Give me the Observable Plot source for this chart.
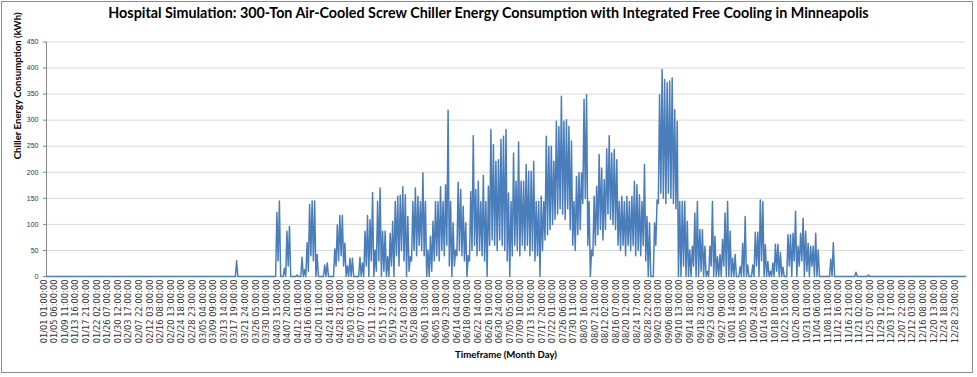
<!DOCTYPE html>
<html>
<head>
<meta charset="utf-8">
<script src="https://cdn.jsdelivr.net/npm/d3@7"></script>
<script src="https://cdn.jsdelivr.net/npm/@observablehq/plot@0.6"></script>
<style>
  html, body { margin: 0; padding: 0; background: #fff; }
  #chart { position: relative; width: 977px; height: 377px; overflow: hidden; background: #fff; }
  #frame { position: absolute; left: 1px; top: 1px; width: 970px; height: 370px; border: 1px solid #8c8c8c; }
  #title { position: absolute; left: 0; top: 4px; width: 977px; text-align: center; white-space: nowrap;
           font-family: Lato, "Liberation Sans", sans-serif; font-weight: bold; font-size: 12.5px; color: #000; }
  #plot { position: absolute; left: 0; top: 31px; }
</style>
</head>
<body>
<div id="chart">
  <div id="frame"></div>
  <div id="title"><span id="titleText">Hospital Simulation: 300-Ton Air-Cooled Screw Chiller Energy Consumption with Integrated Free Cooling in Minneapolis</span></div>
  <div id="plot"></div>
</div>
<script>
// ---- Data ----
// Daily peak and overnight low chiller energy (kWh), starting at day-of-year index 75 (Mar 17).
const dayStart = 75;
const dailyPeak = [
  30,0,0,0,0,0,0,0,0,0,
  0,0,0,0,0,0,123,145,0,16,
  87,96,0,0,3,0,37,13,65,138,
  145,145,42,0,0,22,26,0,0,53,
  99,117,117,64,20,35,35,0,0,37,
  26,87,117,109,161,51,144,170,87,87,
  38,83,106,144,154,156,172,157,115,38,
  144,170,154,144,199,144,51,77,106,144,
  144,172,144,176,319,144,103,51,181,167,
  135,103,40,163,270,167,183,144,194,144,
  173,282,253,221,224,263,269,282,160,144,
  237,183,258,183,183,215,202,202,221,144,
  144,154,144,269,250,250,221,298,288,346,
  298,301,288,260,144,192,199,199,340,349,
  144,51,154,173,234,208,186,245,270,237,
  244,224,144,154,144,154,144,154,183,176,
  157,144,215,115,103,0,103,147,349,397,
  378,372,375,381,320,298,144,144,144,106,
  51,58,122,144,90,90,58,10,58,144,
  77,38,42,71,122,144,87,35,42,0,
  19,64,115,22,0,22,85,85,147,144,
  61,29,10,26,62,62,46,18,0,80,
  80,83,125,58,83,112,87,64,58,58,
  83,51,0,0,0,0,33,65,0,0,
  0,0,0,0,0,0,8,0,0,0,
  0,3,0,0,0,0
];
const dailyLow = [
  0,0,0,0,0,0,0,0,0,0,
  0,0,0,0,0,0,0,30,0,0,
  0,20,0,0,0,0,0,0,0,10,
  40,30,0,0,0,0,0,0,0,0,
  20,30,40,20,0,0,0,0,0,0,
  0,0,20,0,30,0,10,30,0,10,
  0,0,20,0,40,20,50,30,0,10,
  30,50,40,60,50,40,0,0,10,30,
  40,30,50,40,60,20,0,20,40,50,
  40,30,0,30,50,60,40,50,40,30,
  0,60,70,60,50,70,60,50,30,0,
  40,60,50,40,60,50,60,40,50,30,
  40,0,50,70,80,90,100,110,120,130,
  120,110,130,90,60,50,80,90,140,150,
  60,0,40,60,80,90,70,90,120,110,
  100,90,60,50,60,40,60,50,60,40,
  50,40,60,30,0,0,0,60,140,160,
  150,140,160,150,140,130,0,0,20,0,
  0,0,20,0,0,10,0,0,0,20,
  0,0,0,0,20,0,0,0,0,0,
  0,0,0,0,0,0,0,20,0,30,
  0,0,0,0,0,10,0,0,0,0,
  20,0,30,0,20,30,0,10,0,20,
  0,0,0,0,0,0,0,0,0,0,
  0,0,0,0,0,0,0,0,0,0,
  0,0,0,0,0,0
];
const hoursInYear = 8760;
const yTicks = [0, 50, 100, 150, 200, 250, 300, 350, 400, 450];
// Category labels shown every 101 hours, starting with hour 1 ("01/01 01:00:00")
const tickHours = d3.range(87).map(i => 1 + 101 * i);
const tickLabels = tickHours.map(h => {
  const d = Math.floor((h - 1) / 24);
  const hr = ((h - 1) % 24) + 1;
  const date = new Date(Date.UTC(2001, 0, 1 + d));
  const mm = String(date.getUTCMonth() + 1).padStart(2, "0");
  const dd = String(date.getUTCDate()).padStart(2, "0");
  return `${mm}/${dd} ${String(hr).padStart(2, "0")}:00:00`;
});
const yTitle = "Chiller Energy Consumption (kWh)";
const xTitle = "Timeframe (Month Day)";

// ---- Build series table ----
const series = [{hour: 0, kwh: 0}];
dailyPeak.forEach((p, i) => {
  const d = dayStart + i;
  series.push({hour: d * 24, kwh: dailyLow[i]});
  series.push({hour: d * 24 + 12, kwh: p});
});
series.push({hour: (dayStart + dailyPeak.length) * 24, kwh: 0});
series.push({hour: hoursInYear, kwh: 0});
const ticks = tickHours.map((h, i) => ({hour: h, label: tickLabels[i]}));

const chart = Plot.plot({
  width: 977,
  height: 346,
  marginLeft: 46,
  marginRight: 12,
  marginTop: 10.5,
  marginBottom: 101,
  style: {fontFamily: "'Liberation Sans', Arial, sans-serif", fontSize: "7px", color: "#333", background: "transparent", overflow: "visible"},
  x: {domain: [0, hoursInYear], axis: null},
  y: {domain: [0, 450], axis: null},
  marks: [
    Plot.gridY(yTicks, {stroke: "#d9d9d9", strokeOpacity: 1, strokeWidth: 1}),
    Plot.axisY(yTicks, {tickSize: 3, tickPadding: 5, stroke: "#868686", fill: "#333", fontSize: 7, label: null, tickFormat: d => String(d)}),
    Plot.ruleX([0], {stroke: "#868686"}),
    Plot.line(series, {x: "hour", y: "kwh", stroke: "#4a7ebb", strokeWidth: 1.5, strokeLinejoin: "round"}),
    Plot.text(ticks, {x: "hour", frameAnchor: "bottom", text: "label", rotate: -90, textAnchor: "end", dy: 3,
      fontSize: 8.3, fontFamily: "'DejaVu Sans', sans-serif", fill: "#333"}),
    Plot.text([yTitle], {frameAnchor: "left", rotate: -90, dx: -29, fontWeight: "bold", fontSize: 8,
      fontFamily: "Lato, 'Liberation Sans', sans-serif", fill: "#000"}),
    Plot.text([xTitle], {frameAnchor: "bottom", dy: 81, fontWeight: "bold", fontSize: 8,
      fontFamily: "Lato, 'Liberation Sans', sans-serif", fill: "#000"})
  ]
});
document.getElementById("plot").appendChild(chart);

// fit the title to the reference width
const tt = document.getElementById("titleText");
const w = tt.getBoundingClientRect().width;
tt.parentNode.style.fontSize = (12.5 * 761 / w) + "px";

// size the axis titles so the vertical one spans ~147px like the reference
const texts = Array.from(chart.querySelectorAll("text"));
const yt = texts.find(t => t.textContent === yTitle);
const xt = texts.find(t => t.textContent === xTitle);
if (yt && xt) {
  const len = yt.getComputedTextLength();
  const fs = Math.min(12, 8 * 147 / len);
  yt.setAttribute("font-size", fs);
  xt.setAttribute("font-size", fs);
}
</script>
</body>
</html>
